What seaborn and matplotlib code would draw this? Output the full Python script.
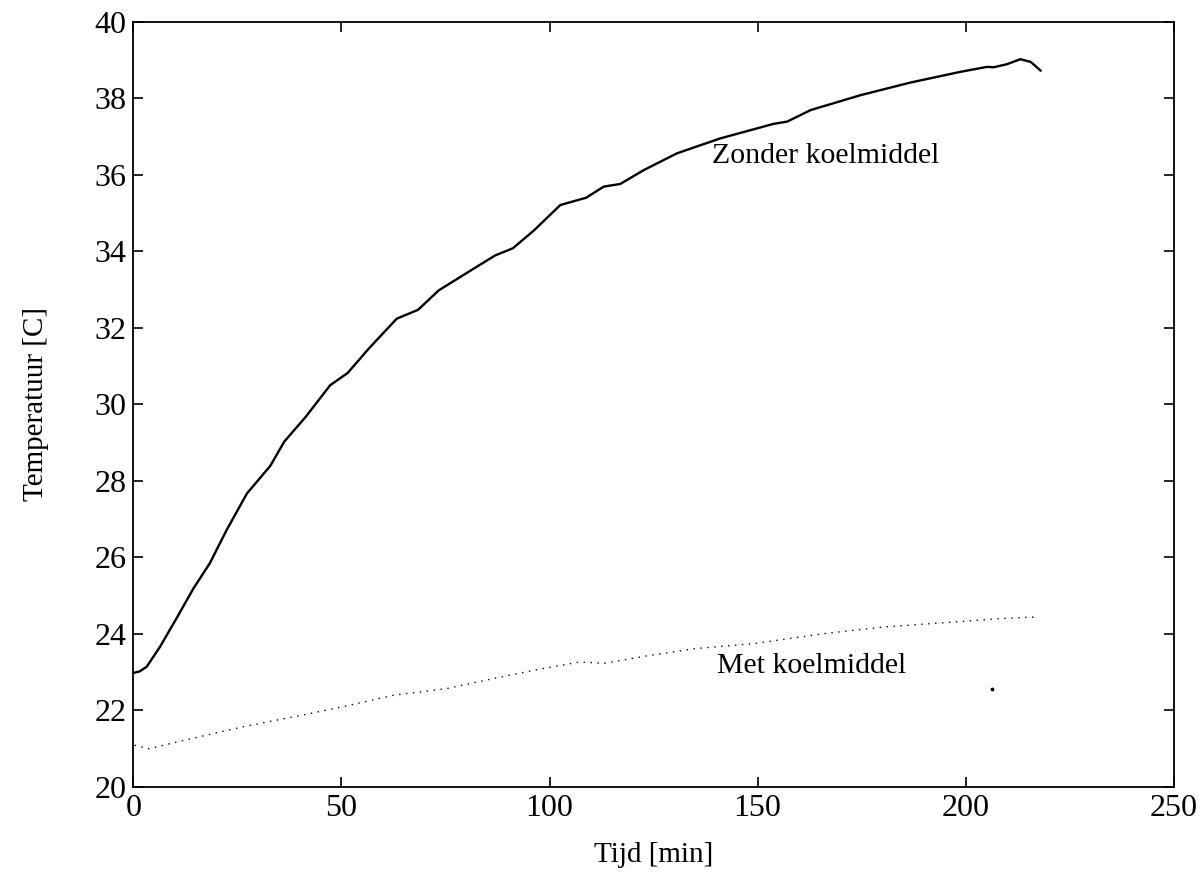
import numpy as np
import matplotlib
matplotlib.use("Agg")
import matplotlib.pyplot as plt
import seaborn as sns

# Zonder koelmiddel (doorgetrokken lijn)
tijd_zonder = [0, 1.5, 3.2, 6.4, 10.4, 14.4, 18.4, 22.4, 27.3, 32.9, 36.3, 41.4, 47.3, 51.5,
               56.6, 63.3, 68.4, 73.4, 80.2, 86.9, 91.2, 96.2, 102.6, 108.8, 113.0, 117.0,
               122.6, 130.6, 141.0, 153.8, 157.1, 162.7, 174.7, 186.7, 198.7, 205.1,
               206.7, 209.9, 213.1, 215.6, 218.0]
temp_zonder = [22.98, 23.02, 23.14, 23.66, 24.41, 25.18, 25.85, 26.71, 27.67, 28.39, 29.03,
               29.67, 30.50, 30.82, 31.46, 32.24, 32.47, 32.98, 33.44, 33.89, 34.08, 34.54,
               35.21, 35.40, 35.69, 35.76, 36.12, 36.56, 36.95, 37.33, 37.39, 37.69, 38.08,
               38.41, 38.69, 38.82, 38.81, 38.89, 39.02, 38.95, 38.72]

# Met koelmiddel (stippellijn)
tijd_met = [0.3, 3.8, 12.2, 26.2, 40.2, 50.0, 62.6, 75.2, 86.4, 96.2, 107.4, 113.0,
            124.1, 135.3, 149.3, 166.1, 180.1, 196.9, 208.0, 216.5]
temp_met = [21.09, 21.00, 21.22, 21.57, 21.87, 22.09, 22.40, 22.57, 22.83, 23.05, 23.27,
            23.23, 23.44, 23.62, 23.75, 24.01, 24.18, 24.31, 24.40, 24.44]

# losse stip in de scan
stip_t = [206.3]
stip_T = [22.57]

sns.set_style("white")
plt.rcParams['font.family'] = ['Liberation Serif', 'DejaVu Serif']
plt.rcParams['text.color'] = 'black'
plt.rcParams['axes.labelcolor'] = 'black'

fig = plt.figure(figsize=(12.04, 8.94), dpi=100)
ax = fig.add_axes([0.1107, 0.1197, 0.8643, 0.856])

sns.lineplot(x=tijd_zonder, y=temp_zonder, ax=ax, color='black', linewidth=1.7,
             sort=False, estimator=None)
sns.lineplot(x=tijd_met, y=temp_met, ax=ax, color='black', linewidth=1.0,
             linestyle=(0, (1, 4)), sort=False, estimator=None)
ax.scatter(stip_t, stip_T, s=3, color='black')

ax.set_xlim(0, 250)
ax.set_ylim(20, 40)
ax.set_xticks([0, 50, 100, 150, 200, 250])
ax.set_yticks(np.arange(20, 41, 2))
ax.tick_params(direction='in', top=True, right=True, bottom=True, left=True,
               length=7, width=1.2, labelsize=23, colors='black', pad=5)
for s in ax.spines.values():
    s.set_visible(True)
    s.set_color('black')
    s.set_linewidth(1.3)

ax.text(139, 36.5, 'Zonder koelmiddel', fontsize=21.5, va='center', ha='left')
ax.text(140.2, 23.16, 'Met koelmiddel', fontsize=21.5, va='center', ha='left')

ax.set_xlabel('Tijd [min]', fontsize=21, labelpad=14)
ax.set_ylabel('Temperatuur [C]', fontsize=21, labelpad=33)

fig.savefig('out.png', dpi=100)
